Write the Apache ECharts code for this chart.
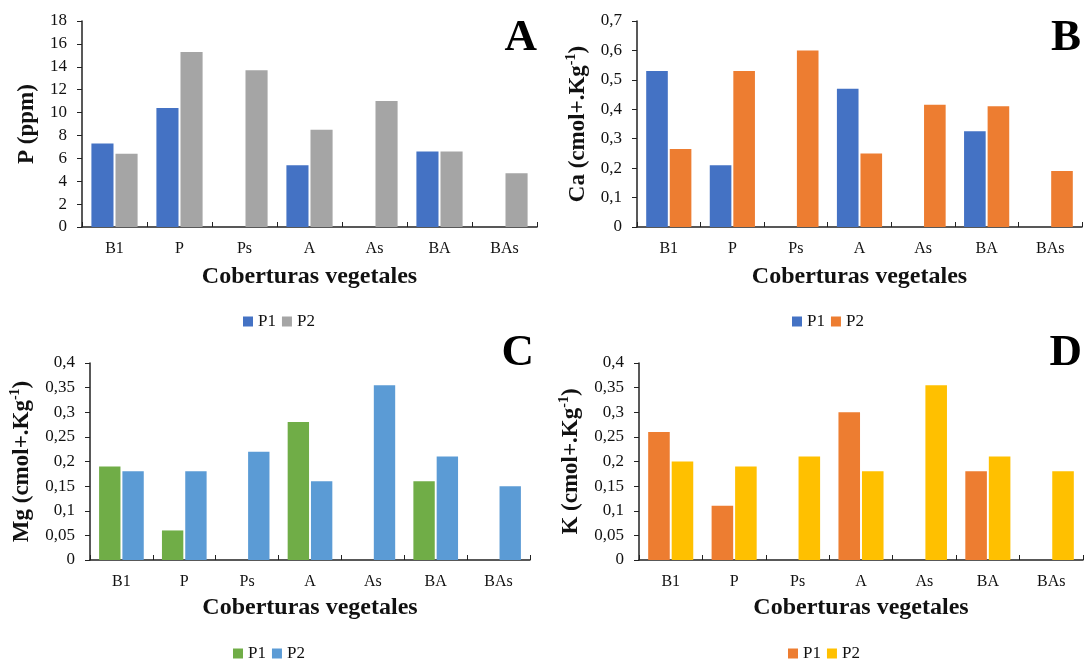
<!DOCTYPE html>
<html>
<head>
<meta charset="utf-8">
<script src="https://cdn.jsdelivr.net/npm/echarts@6/dist/echarts.min.js"></script>
<style>
html,body{margin:0;padding:0;background:#fff;width:1084px;height:660px;overflow:hidden;}
.c{position:absolute;width:542px;height:330px;}
</style>
</head>
<body>
<div id="a" class="c" style="left:0;top:0"></div>
<div id="b" class="c" style="left:542px;top:0"></div>
<div id="cc" class="c" style="left:0;top:330px"></div>
<div id="d" class="c" style="left:542px;top:330px"></div>
<script>
const categories = ['B1', 'P', 'Ps', 'A', 'As', 'BA', 'BAs'];
const seriesNames = ['P1', 'P2'];
const xTitle = 'Coberturas vegetales';

const pP1 = [7.3, 10.4, null, 5.4, null, 6.6, null];
const pP2 = [6.4, 15.3, 13.7, 8.5, 11.0, 6.6, 4.7];
const caP1 = [0.53, 0.21, null, 0.47, null, 0.325, null];
const caP2 = [0.265, 0.53, 0.60, 0.25, 0.415, 0.41, 0.19];
const mgP1 = [0.19, 0.06, null, 0.28, null, 0.16, null];
const mgP2 = [0.18, 0.18, 0.22, 0.16, 0.355, 0.21, 0.15];
const kP1 = [0.26, 0.11, null, 0.30, null, 0.18, null];
const kP2 = [0.20, 0.19, 0.21, 0.18, 0.355, 0.21, 0.18];

const FONT = '"Liberation Serif", "DejaVu Serif", serif';
const TXT = '#111';

function fmt(v) {
  return String(+v.toFixed(2)).replace('.', ',');
}

function yName(el) {
  if (el === 'P') return '{b|P (ppm)}';
  return '{b|' + el + ' (cmol+.Kg}{s|-1}{b|)}';
}

function make(id, cfg) {
  const chart = echarts.init(document.getElementById(id), null, {renderer: 'canvas'});
  chart.setOption({
    animation: false,
    backgroundColor: '#fff',
    textStyle: {fontFamily: FONT},
    grid: cfg.grid,
    legend: {
      data: seriesNames,
      left: cfg.legend[0], top: cfg.legend[1],
      padding: 0,
      itemWidth: 10, itemHeight: 10, itemGap: 6,
      icon: 'rect',
      textStyle: {fontFamily: FONT, fontSize: 17, color: TXT}
    },
    xAxis: {
      type: 'category',
      data: categories,
      boundaryGap: true,
      name: xTitle,
      nameLocation: 'middle',
      nameGap: cfg.xNameGap,
      nameTextStyle: {fontFamily: FONT, fontSize: 24, fontWeight: 'bold', color: TXT},
      axisLine: {show: true, lineStyle: {color: '#222', width: 1.5}},
      axisTick: {show: true, inside: true, length: 5, lineStyle: {color: '#222'}},
      axisLabel: {fontFamily: FONT, fontSize: 16, color: TXT, margin: 14},
      splitLine: {show: false}
    },
    yAxis: {
      type: 'value',
      min: 0, max: cfg.max, interval: cfg.interval,
      name: yName(cfg.el),
      nameLocation: 'middle',
      nameGap: cfg.yNameGap,
      nameTextStyle: {
        rich: {
          b: {fontFamily: FONT, fontSize: 23, fontWeight: 'bold', color: TXT, lineHeight: 28},
          s: {fontFamily: FONT, fontSize: 14, fontWeight: 'bold', color: TXT, lineHeight: 14, verticalAlign: 'top'}
        }
      },
      axisLine: {show: true, lineStyle: {color: '#222', width: 1.5}},
      axisTick: {show: true, inside: false, length: 5, lineStyle: {color: '#222'}},
      axisLabel: {fontFamily: FONT, fontSize: 17, color: TXT, margin: 15, formatter: fmt},
      splitLine: {show: false}
    },
    series: [
      {name: seriesNames[0], type: 'bar', data: cfg.s1, barWidth: '34%', barGap: '9%',
       itemStyle: {color: cfg.colors[0]}},
      {name: seriesNames[1], type: 'bar', data: cfg.s2, barWidth: '34%', barGap: '9%',
       itemStyle: {color: cfg.colors[1]}}
    ],
    graphic: [{
      type: 'text', x: cfg.letter[1], y: cfg.letter[2],
      style: {text: cfg.letter[0], fontFamily: FONT, fontSize: 45, fontWeight: 'bold',
              fill: '#000', align: 'right', verticalAlign: 'middle'}
    }]
  });
}

make('a', {
  el: 'P', max: 18, interval: 2, s1: pP1, s2: pP2,
  colors: ['#4472C4', '#A5A5A5'],
  grid: {left: 82, right: 5, top: 21, bottom: 103},
  legend: [243, 313], xNameGap: 38, yNameGap: 41,
  letter: ['A', 537, 38]
});
make('b', {
  el: 'Ca', max: 0.7, interval: 0.1, s1: caP1, s2: caP2,
  colors: ['#4472C4', '#ED7D31'],
  grid: {left: 95, right: 2, top: 21, bottom: 103},
  legend: [250, 313], xNameGap: 38, yNameGap: 44,
  letter: ['B', 539, 38]
});
make('cc', {
  el: 'Mg', max: 0.4, interval: 0.05, s1: mgP1, s2: mgP2,
  colors: ['#70AD47', '#5B9BD5'],
  grid: {left: 84, right: 12, top: 33, bottom: 100},
  legend: [233, 315], xNameGap: 36, yNameGap: 54,
  letter: ['C', 534, 23]
});
make('d', {
  el: 'K', max: 0.4, interval: 0.05, s1: kP1, s2: kP2,
  colors: ['#ED7D31', '#FFC000'],
  grid: {left: 97, right: 1, top: 33, bottom: 100},
  legend: [246, 315], xNameGap: 36, yNameGap: 54,
  letter: ['D', 540, 23]
});
</script>
</body>
</html>
